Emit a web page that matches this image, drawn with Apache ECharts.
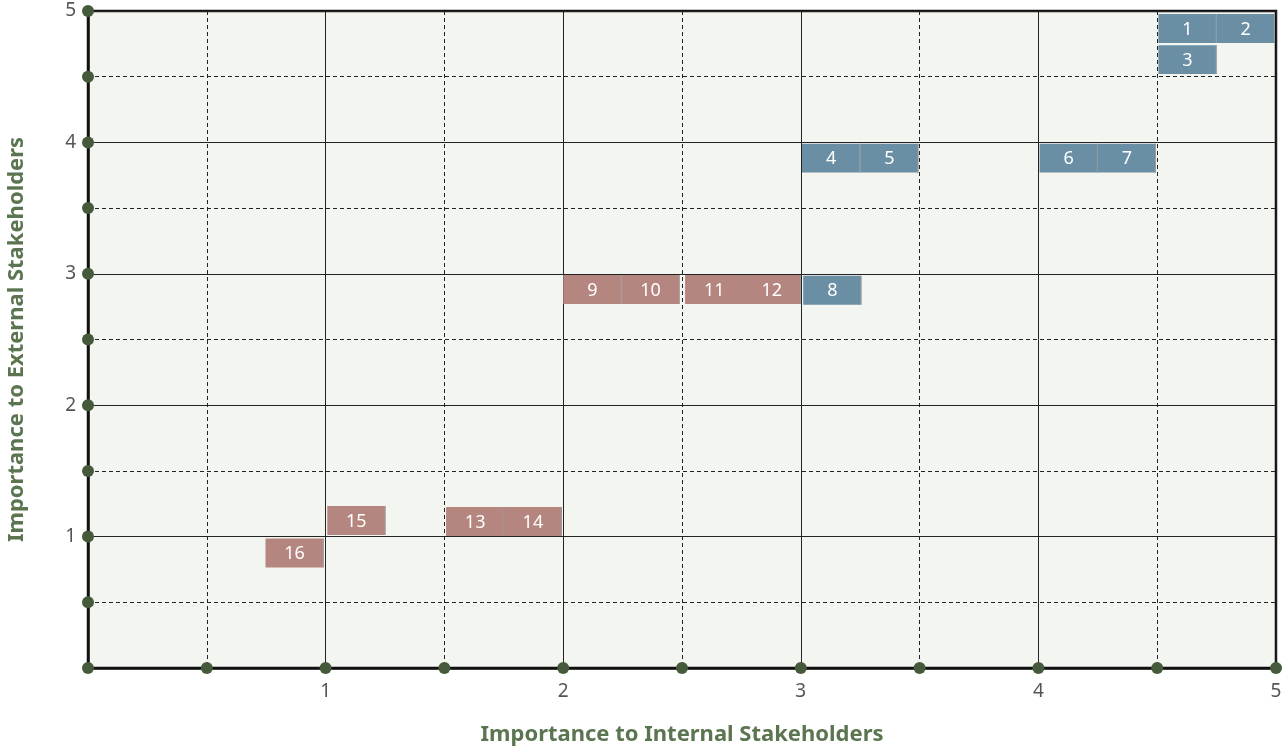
<!DOCTYPE html>
<html><head><meta charset="utf-8">
<script src="https://cdn.jsdelivr.net/npm/echarts@6/dist/echarts.min.js"></script>
<style>html,body{margin:0;padding:0;background:#fff}#c{width:1288px;height:749px}</style>
</head><body><div id="c"></div>
<script>
// Topic ids, left edge (internal importance), top edge (external importance), group
const ids   = ['1','2','3','4','5','6','7','8','9','10','11','12','13','14','15','16'];
const xLeft = [4.505,4.75,4.505,3.005,3.25,4.005,4.25,3.01,2.0,2.245,2.513,2.755,1.507,1.75,1.007,0.747];
const yTop  = [4.977,4.977,4.74,3.99,3.99,3.99,3.99,2.985,2.99,2.99,2.99,2.99,1.225,1.225,1.233,0.985];
const group = ['blue','blue','blue','blue','blue','blue','blue','blue','red','red','red','red','red','red','red','red'];
const tickValues = [0,0.5,1,1.5,2,2.5,3,3.5,4,4.5,5];
const tickLabels = ['1','2','3','4','5'];
const BOX_W = 0.245, BOX_H = 0.22;
const colors = {blue:'#6a8ea3', red:'#b5857f'};
const FONT = '"Noto Sans", "Open Sans", sans-serif';

const boxData = ids.map((id,i)=>[xLeft[i], yTop[i], id, group[i]]);
const dotData = tickValues.map(v=>[v,0]).concat(tickValues.filter(v=>v>0).map(v=>[0,v]));

const chart = echarts.init(document.getElementById('c'));
const labelFmt = v => tickLabels.indexOf(String(v)) >= 0 ? String(v) : '';
chart.setOption({
  animation:false,
  grid:{left:88, top:11, right:12, bottom:81, containLabel:false, outerBoundsMode:'none',
        show:true, backgroundColor:'#f3f5f0', borderColor:'#111', borderWidth:2.5, z:0},
  xAxis:[
    {type:'value', min:0, max:5, interval:0.5,
     axisLine:{show:true, lineStyle:{color:'#111', width:2.5}}, axisTick:{show:false},
     axisLabel:{formatter:labelFmt, color:'#555', fontSize:19, fontFamily:FONT, margin:14, showMinLabel:false},
     splitLine:{show:true, lineStyle:{color:'#222', width:1, type:[4,3]}},
     name:'Importance to Internal Stakeholders', nameLocation:'middle', nameGap:56,
     nameTextStyle:{color:'#5b7551', fontSize:22, fontWeight:'bold', fontFamily:FONT}},
    {type:'value', min:0, max:5, interval:1, position:'bottom',
     axisLine:{show:false}, axisTick:{show:false}, axisLabel:{show:false},
     splitLine:{show:true, lineStyle:{color:'#222', width:1, type:'solid'}}}
  ],
  yAxis:[
    {type:'value', min:0, max:5, interval:0.5,
     axisLine:{show:true, lineStyle:{color:'#111', width:2.5}}, axisTick:{show:false},
     axisLabel:{formatter:labelFmt, color:'#555', fontSize:19, fontFamily:FONT, margin:12, showMinLabel:false},
     splitLine:{show:true, lineStyle:{color:'#222', width:1, type:[4,3]}},
     name:'Importance to External Stakeholders', nameLocation:'middle', nameGap:60,
     nameTextStyle:{color:'#5b7551', fontSize:22, fontWeight:'bold', fontFamily:FONT}},
    {type:'value', min:0, max:5, interval:1, position:'left',
     axisLine:{show:false}, axisTick:{show:false}, axisLabel:{show:false},
     splitLine:{show:true, lineStyle:{color:'#222', width:1, type:'solid'}}}
  ],
  series:[
    {type:'custom', xAxisIndex:0, yAxisIndex:0, data:boxData, z:5,
     renderItem:function(params, api){
       const p = api.coord([api.value(0), api.value(1)]);
       const s = api.size([BOX_W, BOX_H]);
       const fill = colors[boxData[params.dataIndex][3]];
       return {type:'group', children:[
         {type:'rect', shape:{x:p[0], y:p[1], width:s[0], height:s[1]}, style:{fill:fill}},
         {type:'line', shape:{x1:p[0]+s[0]-0.5, y1:p[1], x2:p[0]+s[0]-0.5, y2:p[1]+s[1]}, style:{stroke:'#9a9a9a', lineWidth:1}},
         {type:'text', style:{x:p[0]+s[0]/2, y:p[1]+s[1]/2+1, text:boxData[params.dataIndex][2], fill:'#fff',
            font:'18px '+FONT, textAlign:'center', textVerticalAlign:'middle'}}
       ]};
     }},
    {type:'scatter', xAxisIndex:0, yAxisIndex:0, data:dotData, symbol:'circle', symbolSize:12,
     itemStyle:{color:'#455a3b', opacity:1}, clip:false, z:10, silent:true}
  ]
});
</script></body></html>
